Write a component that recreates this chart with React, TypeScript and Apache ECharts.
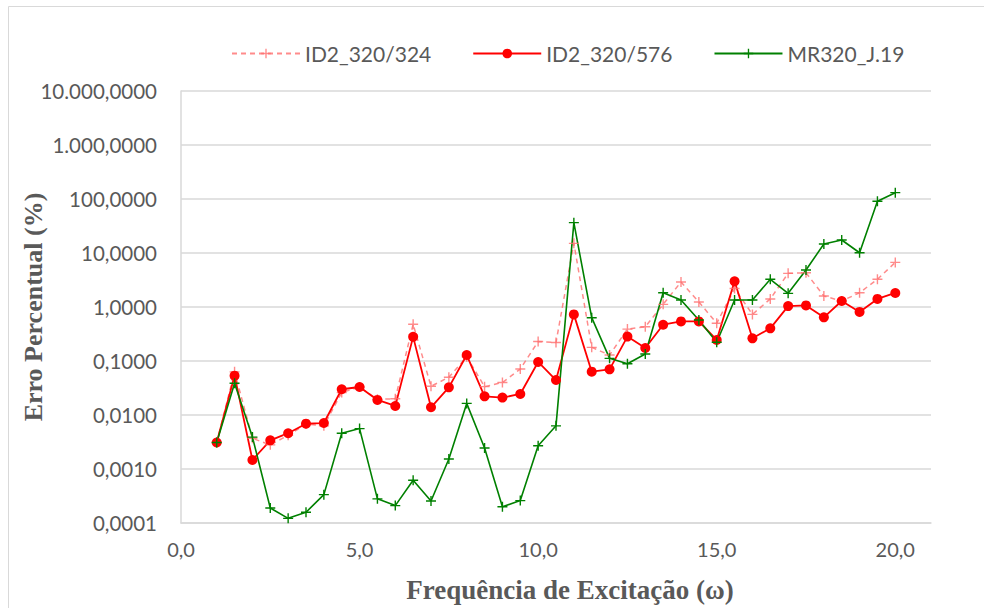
import React, { useEffect, useRef } from "react";
import * as echarts from "echarts";

const xValues = [1, 1.5, 2, 2.5, 3, 3.5, 4, 4.5, 5, 5.5, 6, 6.5, 7, 7.5, 8, 8.5, 9, 9.5, 10, 10.5, 11, 11.5, 12, 12.5, 13, 13.5, 14, 14.5, 15, 15.5, 16, 16.5, 17, 17.5, 18, 18.5, 19, 19.5, 20];

const id2_324 = [0.0031, 0.063, 0.0037, 0.0028, 0.0042, 0.0068, 0.0063, 0.026, 0.033, 0.0195, 0.02, 0.48, 0.034, 0.05, 0.12, 0.0335, 0.04, 0.071, 0.23, 0.22, 15.1, 0.179, 0.129, 0.39, 0.43, 1.12, 2.9, 1.24, 0.5, 2.2, 0.73, 1.41, 4.2, 4.3, 1.6, 1.29, 1.84, 3.26, 6.7];

const id2_576 = [0.0031, 0.0535, 0.00147, 0.0034, 0.0046, 0.0069, 0.0071, 0.03, 0.033, 0.019, 0.0147, 0.28, 0.0139, 0.0325, 0.129, 0.0222, 0.021, 0.0245, 0.096, 0.0444, 0.73, 0.0634, 0.07, 0.283, 0.174, 0.47, 0.54, 0.54, 0.245, 2.99, 0.263, 0.403, 1.04, 1.07, 0.644, 1.29, 0.81, 1.41, 1.82];

const mr320 = [0.0031, 0.0386, 0.0039, 0.00019, 0.000122, 0.000158, 0.000335, 0.0046, 0.0056, 0.00028, 0.00021, 0.00062, 0.000255, 0.00153, 0.0164, 0.00245, 0.0002, 0.00026, 0.0027, 0.0063, 36.5, 0.634, 0.112, 0.089, 0.135, 1.84, 1.35, 0.574, 0.222, 1.35, 1.35, 3.26, 1.79, 4.84, 14.7, 17.4, 10.1, 90.6, 131];

const seriesNames = ["ID2_320/324", "ID2_320/576", "MR320_J.19"];
const xTickLabels = ["0,0", "5,0", "10,0", "15,0", "20,0"];
const yTickLabels = ["0,0001", "0,0010", "0,0100", "0,1000", "1,0000", "10,0000", "100,0000", "1.000,0000", "10.000,0000"];
const xAxisTitle = "Frequência de Excitação (ω)";
const yAxisTitle = "Erro Percentual (%)";

const plusPath = "path://M4.3,0h1.4v4.3h4.3v1.4h-4.3v4.3h-1.4v-4.3h-4.3v-1.4h4.3z";

const pair = (ys: number[]) => xValues.map((x, i) => [x, ys[i]]);

export default function App() {
  const ref = useRef<HTMLDivElement>(null);
  useEffect(() => {
    if (!ref.current) return;
    const chart = echarts.init(ref.current, null, { renderer: "svg" });
    const labelFont = "Lato, 'Open Sans', sans-serif";
    const serif = "'Liberation Serif', 'Times New Roman', serif";
    chart.setOption({
      animation: false,
      backgroundColor: "#ffffff",
      graphic: [
        {
          type: "rect",
          shape: { x: 8.5, y: 6.5, width: 1000, height: 700 },
          style: { fill: "none", stroke: "#d9d9d9", lineWidth: 1 },
          silent: true,
        },
      ],
      legend: {
        top: 38,
        left: 226,
        itemWidth: 68,
        itemHeight: 12,
        itemGap: 41,
        textStyle: { fontFamily: labelFont, fontSize: 21, color: "#595959" },
        data: seriesNames,
      },
      grid: {
        left: 181,
        right: 53,
        top: 91,
        bottom: 85,
        containLabel: false,
        outerBoundsMode: "none",
      },
      xAxis: {
        type: "value",
        min: 0,
        max: 21,
        interval: 5,
        name: xAxisTitle,
        nameLocation: "middle",
        nameGap: 53,
        nameMoveOverlap: false,
        nameTextStyle: {
          fontFamily: serif,
          fontWeight: "bold",
          fontSize: 27,
          color: "#595959",
          padding: [0, 0, 0, 28],
        },
        axisLine: { show: true, lineStyle: { color: "#d9d9d9", width: 1.5 } },
        axisTick: { show: false },
        splitLine: { show: false },
        axisLabel: {
          margin: 16,
          fontFamily: labelFont,
          fontSize: 20,
          color: "#595959",
          formatter: (v: number) => (v % 5 === 0 ? xTickLabels[v / 5] ?? "" : ""),
        },
      },
      yAxis: {
        type: "log",
        logBase: 10,
        min: 0.0001,
        max: 10000,
        splitNumber: 8,
        name: yAxisTitle,
        nameLocation: "middle",
        nameGap: 135,
        nameMoveOverlap: false,
        nameTextStyle: {
          fontFamily: serif,
          fontWeight: "bold",
          fontSize: 26,
          color: "#595959",
        },
        axisLine: { show: true, lineStyle: { color: "#d9d9d9", width: 1.5 } },
        axisTick: { show: false },
        splitLine: { show: true, lineStyle: { color: "#d9d9d9", width: 1.5 } },
        axisLabel: {
          margin: 24,
          fontFamily: labelFont,
          fontSize: 20.5,
          color: "#595959",
          formatter: (v: number) => {
            const idx = Math.round(Math.log10(v)) + 4;
            return yTickLabels[idx] ?? "";
          },
        },
      },
      series: [
        {
          name: seriesNames[0],
          type: "line",
          data: pair(id2_324),
          symbol: plusPath,
          symbolSize: 10,
          lineStyle: { color: "rgba(255,110,110,0.8)", width: 1.5, type: [5, 4] },
          itemStyle: { color: "rgba(255,110,110,0.8)" },
        },
        {
          name: seriesNames[1],
          type: "line",
          data: pair(id2_576),
          symbol: "circle",
          symbolSize: 10,
          lineStyle: { color: "#ff0000", width: 1.8 },
          itemStyle: { color: "#ff0000" },
        },
        {
          name: seriesNames[2],
          type: "line",
          data: pair(mr320),
          symbol: plusPath,
          symbolSize: 10,
          lineStyle: { color: "#008000", width: 1.6 },
          itemStyle: { color: "#008000" },
        },
      ],
    });
    return () => chart.dispose();
  }, []);
  return (
    <div
      ref={ref}
      style={{ position: "fixed", left: 0, top: 0, width: 984, height: 608 }}
    />
  );
}
